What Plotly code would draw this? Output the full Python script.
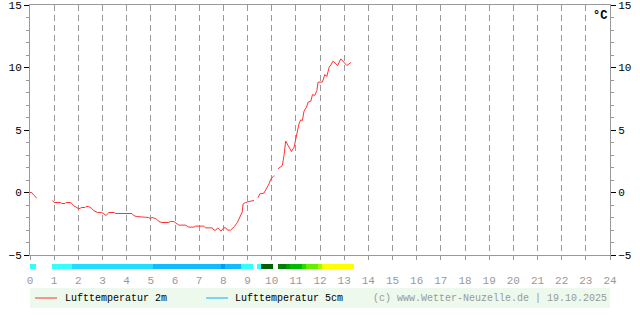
import plotly.graph_objects as go

# ---- data ----
# 2 m air temperature (hours, °C); None marks gaps in the record
t2_hours = [0.00, 0.07, 0.14, 0.28, 0.60,
            0.93, 1.00, 1.27, 1.31, 1.45, 1.49, 1.66, 1.73, 1.80, 1.91, 2.00, 2.07, 2.12, 2.28,
            2.32, 2.42, 2.49, 2.56, 2.63, 2.74, 2.80, 2.97, 3.04, 3.15, 3.22, 3.25, 3.49, 3.53,
            4.22, 4.29, 4.40, 4.91, 4.98, 5.05, 5.19, 5.26, 5.33, 5.46, 5.74, 5.81, 5.95, 6.02,
            6.09, 6.16, 6.43, 6.57, 6.78, 6.85, 7.19, 7.26, 7.54, 7.61, 7.69, 7.77, 7.82, 7.90,
            7.97, 8.02, 8.10, 8.17, 8.30, 8.37, 8.46, 8.58, 8.68, 8.78, 8.82, 8.92, 9.06, 9.27,
            9.35,
            9.43, 9.51, 9.68, 9.79, 9.89, 9.96, 10.10,
            10.18,
            10.26, 10.37, 10.44, 10.51, 10.58, 10.68, 10.82, 10.93, 11.00, 11.07, 11.13, 11.20,
            11.27, 11.34, 11.44, 11.51, 11.62, 11.69, 11.78, 11.87, 11.92, 12.10, 12.20, 12.28,
            12.38, 12.45, 12.54, 12.66, 12.73, 12.86, 13.00, 13.11, 13.28]
t2_values = [0.00, 0.00, -0.18, -0.45, None,
             -0.64, -0.80, -0.80, -0.88, -0.88, -0.80, -0.80, -0.88, -1.04, -1.20, -1.28, -1.28, -1.20, -1.20,
             -1.12, -1.12, -1.20, -1.28, -1.44, -1.55, -1.60, -1.60, -1.71, -1.84, -1.68, -1.60, -1.60, -1.68,
             -1.68, -1.84, -1.92, -2.00, -2.08, -2.00, -2.08, -2.16, -2.32, -2.40, -2.40, -2.32, -2.32, -2.40,
             -2.48, -2.61, -2.61, -2.77, -2.77, -2.69, -2.69, -2.83, -2.83, -3.01, -3.01, -2.83, -2.93, -3.09,
             -2.93, -2.83, -2.83, -3.01, -3.01, -2.91, -2.72, -2.40, -1.97, -1.57, -0.91, -0.80, -0.72, -0.64,
             None,
             -0.43, -0.11, -0.05, 0.29, 0.69, 1.06, 1.36,
             None,
             1.89, 2.03, 2.16, 2.96, 4.11, 3.76, 3.28, 3.63, 4.29, 4.69, 5.49, 5.81,
             5.76, 6.51, 6.83, 7.23, 7.31, 7.84, 7.76, 8.16, 8.83, 8.83, 9.44, 9.28,
             10.03, 10.21, 10.51, 10.29, 10.16, 10.69, 10.43, 10.16, 10.40]

# 5 cm temperature, 10-minute samples from 00:00 (shown as a colour strip)
t5_values = [-0.5, -0.5, None, None, None, None,
             -0.6, -0.6, -0.7, -0.7, -0.8,
             -1.2, -1.2, -1.3, -1.3, -1.4, -1.4, -1.5, -1.5, -1.5, -1.6, -1.6, -1.6, -1.7, -1.7,
             -1.7, -1.8, -1.8, -1.8, -1.9, -1.95,
             -2.1, -2.2, -2.2, -2.3, -2.3, -2.4, -2.4, -2.5, -2.5, -2.6, -2.6, -2.7, -2.7, -2.8,
             -2.8, -2.9, -2.9,
             -3.2,
             -2.9, -2.8, -2.5, -2.2,
             -0.9, -0.7, -0.5,
             None,
             -0.2,
             0.3, 0.6, 0.9,
             None,
             1.3, 1.8, 2.5,
             3.2, 3.5, 3.8, 4.5,
             5.2, 5.5, 5.8, 6.5,
             7.2, 7.4, 7.6, 7.8, 7.9, 8.0, 8.0, 8.0]
t5_hours = [k / 6 for k in range(len(t5_values))]

hour_ticks = list(range(0, 25))
hour_labels = [str(h) for h in hour_ticks]
temp_ticks = [-5, 0, 5, 10, 15]
temp_labels = ["\u22125", "0", "5", "10", "15"]

# colour bins for the 5 cm strip (1 °C per bin, -4 .. 8)
strip_colors = ["#0099ff", "#11bbff", "#22ddff", "#33ffff", "#006000", "#007f00",
                "#009900", "#00bb00", "#22dd00", "#66ee00", "#99ff00", "#ffff00"]

# ---- layout geometry (pixels in a 640x315 page) ----
W, H = 640, 315
ML, MR, MT, MB = 30, 30, 5, 0
PW, PH = W - ML - MR, H - MT - MB


def py(pix):
    return (H - MB - pix) / PH


def px(pix):
    return (pix - ML) / PW


n = len(strip_colors)
cscale = []
for i, c in enumerate(strip_colors):
    cscale.append([i / n, c])
    cscale.append([(i + 1) / n, c])

MONO = "Liberation Mono"
fig = go.Figure()

fig.add_trace(go.Scatter(x=t2_hours, y=t2_values, mode="lines", connectgaps=False,
                         line=dict(color="#ff3333", width=1), name="Lufttemperatur 2m",
                         showlegend=False, hoverinfo="skip"))
fig.add_trace(go.Scatter(x=[None], y=[None], yaxis="y3", showlegend=False, hoverinfo="skip"))
fig.add_trace(go.Heatmap(x=t5_hours, y=[0], z=[t5_values], xaxis="x2", yaxis="y2",
                         colorscale=cscale, zmin=-4, zmax=8, showscale=False,
                         hoverinfo="skip", name="Lufttemperatur 5cm"))

main_dom = [py(255), py(5)]
axis_common = dict(range=[-5, 15], tickvals=temp_ticks, ticktext=temp_labels,
                   ticks="outside", ticklen=5, tickcolor="black", tickwidth=1,
                   showline=True, linecolor="#999999", linewidth=1, showgrid=False,
                   zeroline=False, tickfont=dict(family=MONO, size=11, color="black"),
                   minor=dict(dtick=1, ticks="outside", ticklen=3, tickcolor="#999999"),
                   domain=main_dom, fixedrange=True, automargin=False,
                   ticklabeloverflow="allow")

fig.update_layout(
    width=W, height=H, margin=dict(l=ML, r=MR, t=MT, b=MB, autoexpand=False),
    paper_bgcolor="white", plot_bgcolor="white", showlegend=False,
    xaxis=dict(range=[0, 24], tickvals=hour_ticks, ticktext=hour_labels,
               ticks="outside", ticklen=4, tickcolor="#999999",
               showline=True, linecolor="#999999", mirror=True,
               showgrid=True, gridcolor="#999999", griddash="6px,4px", gridwidth=1,
               zeroline=False, ticklabelstandoff=11, automargin=False,
               ticklabeloverflow="allow",
               tickfont=dict(family=MONO, size=11, color="#999999")),
    xaxis2=dict(range=[0, 24], matches="x", anchor="y2", visible=False, automargin=False),
    yaxis=dict(side="left", anchor="x", **axis_common),
    yaxis3=dict(side="right", overlaying="y", anchor="x", **axis_common),
    yaxis2=dict(domain=[py(269), py(264)], range=[-0.5, 0.5], anchor="x2", visible=False,
                automargin=False),
)

# legend box
fig.add_shape(type="rect", xref="paper", yref="paper", x0=0, x1=1, y0=py(308), y1=py(288),
              fillcolor="#ecf9ec", line=dict(width=0), layer="below")
fig.add_shape(type="line", xref="paper", yref="paper", x0=px(35), x1=px(57), y0=py(298), y1=py(298),
              line=dict(color="#ff3333", width=1))
fig.add_shape(type="line", xref="paper", yref="paper", x0=px(206), x1=px(228), y0=py(298), y1=py(298),
              line=dict(color="#00b4ff", width=1))
legend_font = dict(family=MONO, size=10, color="black")
fig.add_annotation(text="Lufttemperatur 2m", xref="paper", yref="paper", x=px(63), y=py(298),
                   xanchor="left", yanchor="middle", showarrow=False, font=legend_font)
fig.add_annotation(text="Lufttemperatur 5cm", xref="paper", yref="paper", x=px(233), y=py(298),
                   xanchor="left", yanchor="middle", showarrow=False, font=legend_font)
fig.add_annotation(text="(c) www.Wetter-Neuzelle.de | 19.10.2025", xref="paper", yref="paper",
                   x=px(609), y=py(298), xanchor="right", yanchor="middle", showarrow=False,
                   font=dict(family=MONO, size=10, color="#999999"))
fig.add_annotation(text="<b>°C</b>", xref="paper", yref="paper", x=px(600), y=py(16),
                   xanchor="center", yanchor="middle", showarrow=False,
                   font=dict(family=MONO, size=12, color="black"))

fig.write_html("out.html")
